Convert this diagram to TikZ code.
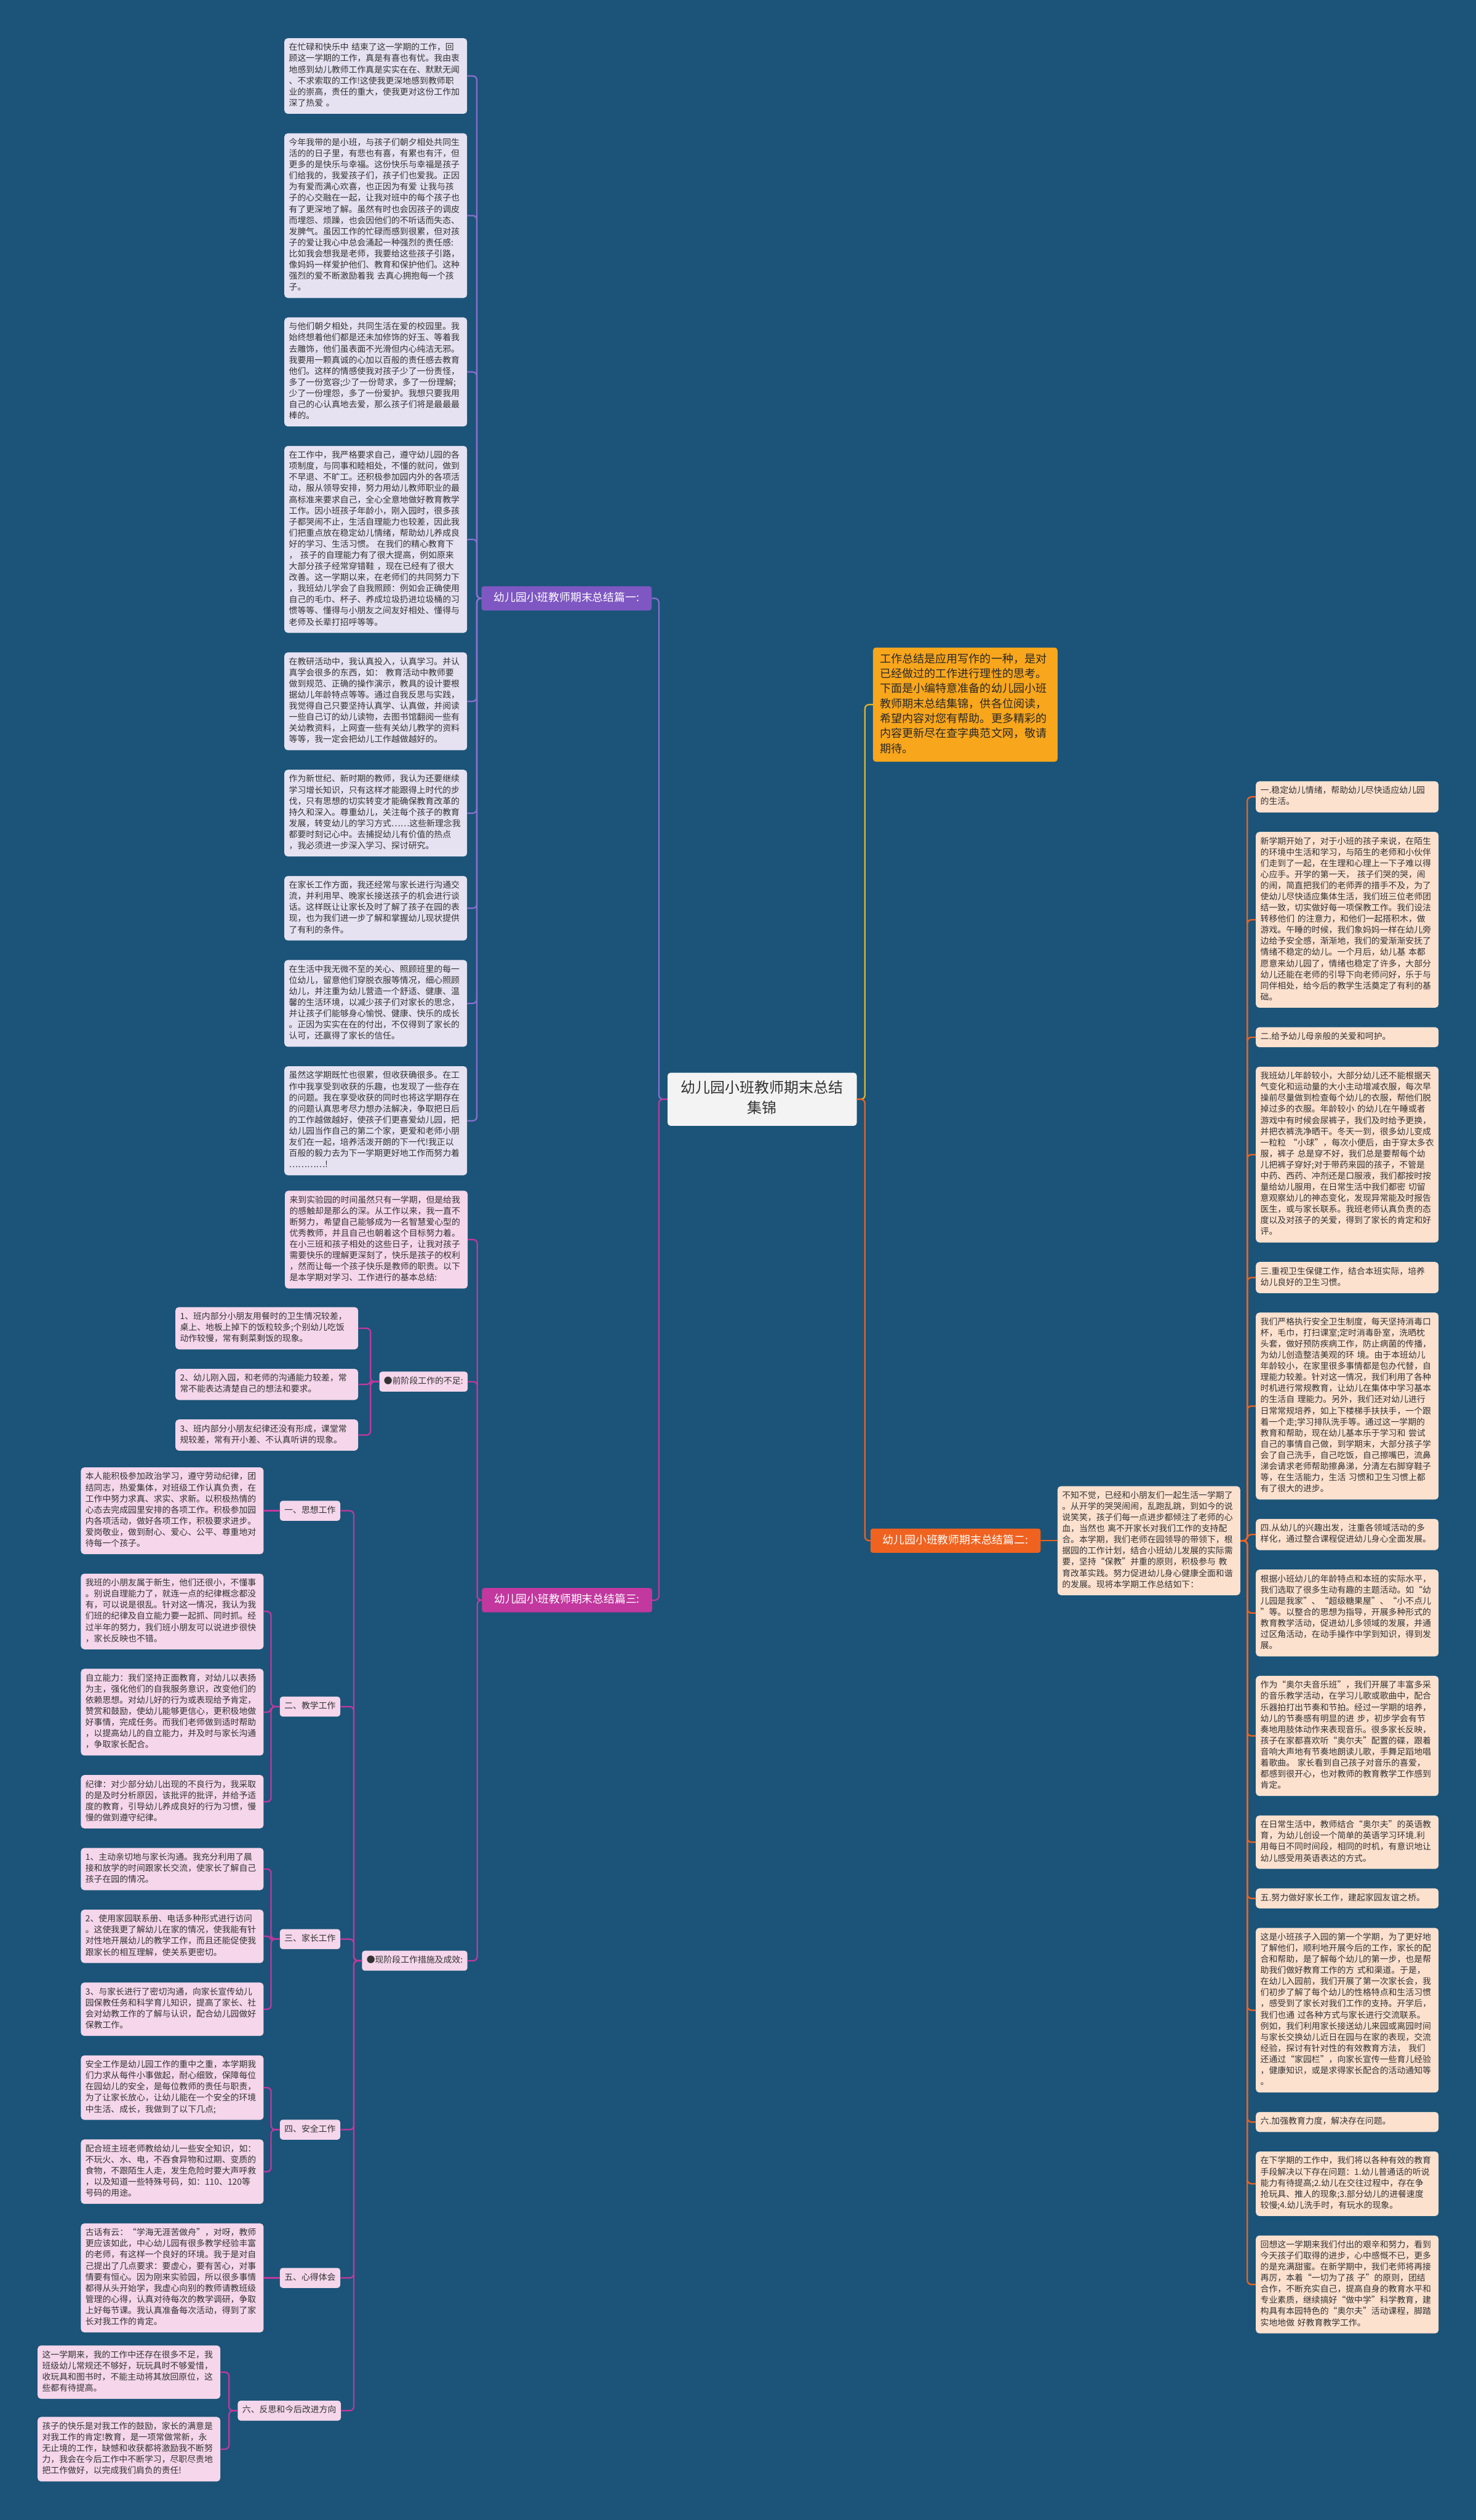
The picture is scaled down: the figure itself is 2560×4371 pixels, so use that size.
\documentclass[tikz,border=0pt]{standalone}
\usepackage{fontspec}
\setmainfont{Noto Sans CJK SC}
\usepackage{xcolor}
\usepackage{tikz}
\usetikzlibrary{positioning, calc}
\definecolor{KG_BG}{HTML}{1B5478}
\definecolor{KG_TEXT}{HTML}{333333}
\definecolor{KG_PURPLE}{HTML}{7E57C2}
\definecolor{KG_VIOLET}{HTML}{8B6FD0}
\definecolor{KG_MAGENTA}{HTML}{C2389F}
\definecolor{KG_ORANGE}{HTML}{F0621F}
\definecolor{KG_AMBER}{HTML}{F8A61C}
\definecolor{KG_GOLD}{HTML}{E3B42A}
\definecolor{KG_LAV}{HTML}{E6E2F2}
\definecolor{KG_PINK}{HTML}{F5D6EB}
\definecolor{KG_PEACH}{HTML}{FCE1CF}
\definecolor{KG_ROOT}{HTML}{F3F3F3}
\tikzset{
  txtbox/.style={
    rectangle, rounded corners=6pt,
    text width=301pt, align=left,
    inner xsep=8pt, inner ysep=7.7pt,
    text=KG_TEXT, font=\fontsize{14.8}{19.3}\selectfont,
    execute at begin node=\strut, execute at end node=\strut},
  lav/.style={txtbox, fill=KG_LAV},
  pinkbox/.style={txtbox, fill=KG_PINK},
  peach/.style={txtbox, fill=KG_PEACH},
  sec/.style={
    rectangle, rounded corners=5pt,
    inner xsep=8pt, inner ysep=7.7pt,
    fill=KG_PINK, text=KG_TEXT, font=\fontsize{14.8}{19.3}\selectfont,
    execute at begin node=\strut},
  part/.style={
    rectangle, rounded corners=4pt,
    minimum width=295pt, inner xsep=11pt, inner ysep=8pt,
    text=white, font=\fontsize{19}{26}\selectfont,
    execute at begin node=\strut},
  root/.style={
    rectangle, rounded corners=5pt,
    text width=283pt, align=center,
    inner xsep=22.5pt, inner ysep=11.3pt,
    fill=KG_ROOT, text=KG_TEXT, font=\fontsize{25.6}{34.7}\selectfont,
    execute at begin node=\strut, execute at end node=\strut},
  introbox/.style={
    rectangle, rounded corners=5pt,
    text width=296pt, align=left,
    inner xsep=12pt, inner ysep=8pt,
    fill=KG_AMBER, text=KG_TEXT!80!black, font=\fontsize{19.3}{26}\selectfont,
    execute at begin node=\strut, execute at end node=\strut},
  lnk/.style={rounded corners=7pt, line width=2.4pt},
}
\begin{document}
\begin{tikzpicture}[x=1pt, y=-1pt, node distance=33.4pt]

  \useasboundingbox (0,0) rectangle (2560,4371);
  \fill[KG_BG] (0,0) rectangle (2560,4371);

  % part one - LEFT, top
  \node[lav, anchor=north west] (a1) at (493,66)
    {在忙碌和快乐中 结束了这一学期的工作，回\\顾这一学期的工作，真是有喜也有忧。我由衷\\地感到幼儿教师工作真是实实在在、默默无闻\\、不求索取的工作!这使我更深地感到教师职\\业的崇高，责任的重大，使我更对这份工作加\\深了热爱 。};

  \node[lav, below=of a1] (a2)
    {今年我带的是小班，与孩子们朝夕相处共同生\\活的的日子里，有悲也有喜，有累也有汗，但\\更多的是快乐与幸福。这份快乐与幸福是孩子\\们给我的，我爱孩子们，孩子们也爱我。正因\\为有爱而满心欢喜，也正因为有爱 让我与孩\\子的心交融在一起，让我对班中的每个孩子也\\有了更深地了解。虽然有时也会因孩子的调皮\\而埋怨、烦躁，也会因他们的不听话而失态、\\发脾气。虽因工作的忙碌而感到很累，但对孩\\子的爱让我心中总会涌起一种强烈的责任感:\\比如我会想我是老师，我要给这些孩子引路，\\像妈妈一样爱护他们、教育和保护他们。这种\\强烈的爱不断激励着我 去真心拥抱每一个孩\\子。};

  \node[lav, below=of a2] (a3)
    {与他们朝夕相处，共同生活在爱的校园里。我\\始终想着他们都是还未加修饰的好玉、等着我\\去雕饰，他们虽表面不光滑但内心纯洁无邪。\\我要用一颗真诚的心加以百般的责任感去教育\\他们。这样的情感使我对孩子少了一份责怪，\\多了一份宽容;少了一份苛求，多了一份理解;\\少了一份埋怨，多了一份爱护。我想只要我用\\自己的心认真地去爱，那么孩子们将是最最最\\棒的。};

  \node[lav, below=of a3] (a4)
    {在工作中，我严格要求自己，遵守幼儿园的各\\项制度，与同事和睦相处，不懂的就问，做到\\不早退、不旷工。还积极参加园内外的各项活\\动，服从领导安排，努力用幼儿教师职业的最\\高标准来要求自己，全心全意地做好教育教学\\工作。因小班孩子年龄小，刚入园时，很多孩\\子都哭闹不止，生活自理能力也较差，因此我\\们把重点放在稳定幼儿情绪，帮助幼儿养成良\\好的学习、生活习惯。 在我们的精心教育下\\， 孩子的自理能力有了很大提高，例如原来\\大部分孩子经常穿错鞋 ，现在已经有了很大\\改善。这一学期以来，在老师们的共同努力下\\，我班幼儿学会了自我照顾：例如会正确使用\\自己的毛巾、杯子、养成垃圾扔进垃圾桶的习\\惯等等、懂得与小朋友之间友好相处、懂得与\\老师及长辈打招呼等等。};

  \node[lav, below=of a4] (a5)
    {在教研活动中，我认真投入，认真学习。并认\\真学会很多的东西，如： 教育活动中教师要\\做到规范、正确的操作演示，教具的设计要根\\据幼儿年龄特点等等。通过自我反思与实践，\\我觉得自己只要坚持认真学、认真做，并阅读\\一些自己订的幼儿读物，去图书馆翻阅一些有\\关幼教资料，上网查一些有关幼儿教学的资料\\等等，我一定会把幼儿工作越做越好的。};

  \node[lav, below=of a5] (a6)
    {作为新世纪、新时期的教师，我认为还要继续\\学习增长知识，只有这样才能跟得上时代的步\\伐，只有思想的切实转变才能确保教育改革的\\持久和深入。尊重幼儿，关注每个孩子的教育\\发展，转变幼儿的学习方式……这些新理念我\\都要时刻记心中。去捕捉幼儿有价值的热点\\，我必须进一步深入学习、探讨研究。};

  \node[lav, below=of a6] (a7)
    {在家长工作方面，我还经常与家长进行沟通交\\流，并利用早、晚家长接送孩子的机会进行谈\\话。这样既让让家长及时了解了孩子在园的表\\现，也为我们进一步了解和掌握幼儿现状提供\\了有利的条件。};

  \node[lav, below=of a7] (a8)
    {在生活中我无微不至的关心、照顾班里的每一\\位幼儿，留意他们穿脱衣服等情况，细心照顾\\幼儿，并注重为幼儿营造一个舒适、健康、温\\馨的生活环境，以减少孩子们对家长的思念，\\并让孩子们能够身心愉悦、健康、快乐的成长\\。正因为实实在在的付出，不仅得到了家长的\\认可，还赢得了家长的信任。};

  \node[lav, below=of a8] (a9)
    {虽然这学期既忙也很累，但收获确很多。在工\\作中我享受到收获的乐趣，也发现了一些存在\\的问题。我在享受收获的同时也将这学期存在\\的问题认真思考尽力想办法解决，争取把日后\\的工作越做越好，使孩子们更喜爱幼儿园，把\\幼儿园当作自己的第二个家，更爱和老师小朋\\友们在一起，培养活泼开朗的下一代!我正以\\百般的毅力去为下一学期更好地工作而努力着\\…………!};

  \node[part, fill=KG_PURPLE, anchor=east] (p1) at ($(a1.east)!.5!(a9.east) + (320,0)$)
    {幼儿园小班教师期末总结篇一:};

  % part three - LEFT, bottom
  \node[pinkbox, anchor=north west] (b0) at (494,2065)
    {来到实验园的时间虽然只有一学期，但是给我\\的感触却是那么的深。从工作以来，我一直不\\断努力，希望自己能够成为一名智慧爱心型的\\优秀教师，并且自己也朝着这个目标努力着。\\在小三班和孩子相处的这些日子，让我对孩子\\需要快乐的理解更深刻了，快乐是孩子的权利\\，然而让每一个孩子快乐是教师的职责。以下\\是本学期对学习、工作进行的基本总结:};

  \node[pinkbox, anchor=north west] (q1) at (304,2267)
    {1、班内部分小朋友用餐时的卫生情况较差，\\桌上、地板上掉下的饭粒较多;个别幼儿吃饭\\动作较慢，常有剩菜剩饭的现象。};
  \node[pinkbox, below=of q1] (q2)
    {2、幼儿刚入园，和老师的沟通能力较差，常\\常不能表达清楚自己的想法和要求。};
  \node[pinkbox, below=of q2] (q3)
    {3、班内部分小朋友纪律还没有形成，课堂常\\规较差，常有开小差、不认真听讲的现象。};

  \node[sec, anchor=east] (pre) at ($(q1.east)!.5!(q3.east) + (190,0)$)
    {●前阶段工作的不足:};

  \node[pinkbox, anchor=north west] (t1) at (140,2545)
    {本人能积极参加政治学习，遵守劳动纪律，团\\结同志，热爱集体，对班级工作认真负责，在\\工作中努力求真、求实、求新。以积极热情的\\心态去完成园里安排的各项工作。积极参加园\\内各项活动，做好各项工作，积极要求进步。\\爱岗敬业，做到耐心、爱心、公平、尊重地对\\待每一个孩子。};
  \node[pinkbox, below=of t1] (t2)
    {我班的小朋友属于新生，他们还很小，不懂事\\。别说自理能力了，就连一点的纪律概念都没\\有，可以说是很乱。针对这一情况，我认为我\\们班的纪律及自立能力要一起抓、同时抓。经\\过半年的努力，我们班小朋友可以说进步很快\\，家长反映也不错。};
  \node[pinkbox, below=of t2] (t3)
    {自立能力：我们坚持正面教育，对幼儿以表扬\\为主，强化他们的自我服务意识，改变他们的\\依赖思想。对幼儿好的行为或表现给予肯定，\\赞赏和鼓励，使幼儿能够更信心，更积极地做\\好事情，完成任务。而我们老师做到适时帮助\\，以提高幼儿的自立能力，并及时与家长沟通\\，争取家长配合。};
  \node[pinkbox, below=of t3] (t4)
    {纪律：对少部分幼儿出现的不良行为，我采取\\的是及时分析原因，该批评的批评，并给予适\\度的教育，引导幼儿养成良好的行为习惯，慢\\慢的做到遵守纪律。};
  \node[pinkbox, below=of t4] (t5)
    {1、主动亲切地与家长沟通。我充分利用了晨\\接和放学的时间跟家长交流，使家长了解自己\\孩子在园的情况。};
  \node[pinkbox, below=of t5] (t6)
    {2、使用家园联系册、电话多种形式进行访问\\。这使我更了解幼儿在家的情况，使我能有针\\对性地开展幼儿的教学工作，而且还能促使我\\跟家长的相互理解，使关系更密切。};
  \node[pinkbox, below=of t6] (t7)
    {3、与家长进行了密切沟通，向家长宣传幼儿\\园保教任务和科学育儿知识，提高了家长、社\\会对幼教工作的了解与认识，配合幼儿园做好\\保教工作。};
  \node[pinkbox, below=of t7] (t8)
    {安全工作是幼儿园工作的重中之重，本学期我\\们力求从每件小事做起，耐心细致，保障每位\\在园幼儿的安全，是每位教师的责任与职责，\\为了让家长放心，让幼儿能在一个安全的环境\\中生活、成长，我做到了以下几点;};
  \node[pinkbox, below=of t8] (t9)
    {配合班主班老师教给幼儿一些安全知识，如：\\不玩火、水、电，不吞食异物和过期、变质的\\食物，不跟陌生人走，发生危险时要大声呼救\\，以及知道一些特殊号码，如：110、120等\\号码的用途。};
  \node[pinkbox, below=of t9] (t10)
    {古话有云：“学海无涯苦做舟”，对呀，教师\\更应该如此，中心幼儿园有很多教学经验丰富\\的老师，有这样一个良好的环境。我于是对自\\己提出了几点要求：要虚心，要有苦心，对事\\情要有恒心。因为刚来实验园，所以很多事情\\都得从头开始学，我虚心向别的教师请教班级\\管理的心得，认真对待每次的教学调研，争取\\上好每节课。我认真准备每次活动，得到了家\\长对我工作的肯定。};

  \node[pinkbox, anchor=north west] (f1) at (65,4068)
    {这一学期来，我的工作中还存在很多不足，我\\班级幼儿常规还不够好，玩玩具时不够爱惜，\\收玩具和图书时，不能主动将其放回原位，这\\些都有待提高。};
  \node[pinkbox, below=31pt of f1] (f2)
    {孩子的快乐是对我工作的鼓励，家长的满意是\\对我工作的肯定!教育，是一项常做常新，永\\无止境的工作，缺憾和收获都将激励我不断努\\力，我会在今后工作中不断学习，尽职尽责地\\把工作做好，以完成我们肩负的责任!};

  \node[sec, anchor=east] (s1) at ($(t1.east) + (133,0)$) {一、思想工作};
  \node[sec, anchor=east] (s2) at ($(t2.east)!.5!(t4.east) + (133,0)$) {二、教学工作};
  \node[sec, anchor=east] (s3) at ($(t5.east)!.5!(t7.east) + (133,0)$) {三、家长工作};
  \node[sec, anchor=east] (s4) at ($(t8.east)!.5!(t9.east) + (133,0)$) {四、安全工作};
  \node[sec, anchor=east] (s5) at ($(t10.east) + (133,0)$) {五、心得体会};
  \node[sec, anchor=east] (s6) at ($(f1.east)!.5!(f2.east) + (209,0)$) {六、反思和今后改进方向};

  \node[sec, anchor=east] (now) at ($(s1.east)!.5!(s6.east) + (220,0)$)
    {●现阶段工作措施及成效:};

  \node[part, fill=KG_MAGENTA, anchor=east] (p3) at ($(b0.east)!.5!(now.east) + (320,0)$)
    {幼儿园小班教师期末总结篇三:};

  % root
  \node[root, anchor=west] (ctr) at ($(p1.east)!.5!(p3.east) + (27,0)$)
    {幼儿园小班教师期末总结\\集锦};

  % part two - RIGHT
  \node[peach, anchor=north west] (r1) at (2178,1355)
    {一.稳定幼儿情绪，帮助幼儿尽快适应幼儿园\\的生活。};
  \node[peach, below=of r1] (r2)
    {新学期开始了，对于小班的孩子来说，在陌生\\的环境中生活和学习，与陌生的老师和小伙伴\\们走到了一起，在生理和心理上一下子难以得\\心应手。开学的第一天， 孩子们哭的哭，闹\\的闹，简直把我们的老师弄的措手不及，为了\\使幼儿尽快适应集体生活，我们班三位老师团\\结一致，切实做好每一项保教工作。我们设法\\转移他们 的注意力，和他们一起搭积木，做\\游戏。午睡的时候，我们象妈妈一样在幼儿旁\\边给予安全感，渐渐地，我们的爱渐渐安抚了\\情绪不稳定的幼儿。一个月后，幼儿基 本都\\愿意来幼儿园了，情绪也稳定了许多，大部分\\幼儿还能在老师的引导下向老师问好，乐于与\\同伴相处，给今后的教学生活奠定了有利的基\\础。};
  \node[peach, below=of r2] (r3)
    {二.给予幼儿母亲般的关爱和呵护。};
  \node[peach, below=of r3] (r4)
    {我班幼儿年龄较小，大部分幼儿还不能根据天\\气变化和运动量的大小主动增减衣服，每次早\\操前尽量做到检查每个幼儿的衣服，帮他们脱\\掉过多的衣服。年龄较小 的幼儿在午睡或者\\游戏中有时候会尿裤子，我们及时给予更换，\\并把衣裤洗净晒干。冬天一到，很多幼儿变成\\一粒粒 “小球”，每次小便后，由于穿太多衣\\服，裤子 总是穿不好，我们总是要帮每个幼\\儿把裤子穿好;对于带药来园的孩子，不管是\\中药、西药、冲剂还是口服液，我们都按时按\\量给幼儿服用，在日常生活中我们都密 切留\\意观察幼儿的神态变化，发现异常能及时报告\\医生，或与家长联系。我班老师认真负责的态\\度以及对孩子的关爱，得到了家长的肯定和好\\评。};
  \node[peach, below=of r4] (r5)
    {三.重视卫生保健工作，结合本班实际，培养\\幼儿良好的卫生习惯。};
  \node[peach, below=of r5] (r6)
    {我们严格执行安全卫生制度，每天坚持消毒口\\杯，毛巾，打扫课室;定时消毒卧室，洗晒枕\\头套，做好预防疾病工作，防止病菌的传播，\\为幼儿创造整洁美观的环 境。由于本班幼儿\\年龄较小，在家里很多事情都是包办代替，自\\理能力较差。针对这一情况，我们利用了各种\\时机进行常规教育，让幼儿在集体中学习基本\\的生活自 理能力。另外，我们还对幼儿进行\\日常常规培养，如上下楼梯手扶扶手，一个跟\\着一个走;学习排队洗手等。通过这一学期的\\教育和帮助，现在幼儿基本乐于学习和 尝试\\自己的事情自己做，到学期末，大部分孩子学\\会了自己洗手，自己吃饭，自己擦嘴巴，流鼻\\涕会请求老师帮助擦鼻涕，分清左右脚穿鞋子\\等，在生活能力，生活 习惯和卫生习惯上都\\有了很大的进步。};
  \node[peach, below=of r6] (r7)
    {四.从幼儿的兴趣出发，注重各领域活动的多\\样化，通过整合课程促进幼儿身心全面发展。};
  \node[peach, below=of r7] (r8)
    {根据小班幼儿的年龄特点和本班的实际水平，\\我们选取了很多生动有趣的主题活动。如“幼\\儿园是我家”、“超级糖果屋”、“小不点儿\\”等。以整合的思想为指导，开展多种形式的\\教育教学活动，促进幼儿多领域的发展，并通\\过区角活动，在动手操作中学到知识，得到发\\展。};
  \node[peach, below=of r8] (r9)
    {作为“奥尔夫音乐班”，我们开展了丰富多采\\的音乐教学活动，在学习儿歌或歌曲中，配合\\乐器拍打出节奏和节拍。经过一学期的培养，\\幼儿的节奏感有明显的进 步，初步学会有节\\奏地用肢体动作来表现音乐。很多家长反映，\\孩子在家都喜欢听“奥尔夫”配置的碟，跟着\\音响大声地有节奏地朗读儿歌，手舞足蹈地唱\\着歌曲。 家长看到自己孩子对音乐的喜爱，\\都感到很开心，也对教师的教育教学工作感到\\肯定。};
  \node[peach, below=of r9] (r10)
    {在日常生活中，教师结合“奥尔夫”的英语教\\育，为幼儿创设一个简单的英语学习环境.利\\用每日不同时间段，相同的时机，有意识地让\\幼儿感受用英语表达的方式。};
  \node[peach, below=of r10] (r11)
    {五.努力做好家长工作，建起家园友谊之桥。};
  \node[peach, below=of r11] (r12)
    {这是小班孩子入园的第一个学期，为了更好地\\了解他们，顺利地开展今后的工作，家长的配\\合和帮助，是了解每个幼儿的第一步，也是帮\\助我们做好教育工作的方 式和渠道。于是，\\在幼儿入园前，我们开展了第一次家长会，我\\们初步了解了每个幼儿的性格特点和生活习惯\\，感受到了家长对我们工作的支持。开学后，\\我们也通 过各种方式与家长进行交流联系。\\例如，我们利用家长接送幼儿来园或离园时间\\与家长交换幼儿近日在园与在家的表现，交流\\经验，探讨有针对性的有效教育方法， 我们\\还通过“家园栏”，向家长宣传一些育儿经验\\，健康知识，或是求得家长配合的活动通知等\\。};
  \node[peach, below=of r12] (r13)
    {六.加强教育力度，解决存在问题。};
  \node[peach, below=of r13] (r14)
    {在下学期的工作中，我们将以各种有效的教育\\手段解决以下存在问题：1.幼儿普通话的听说\\能力有待提高;2.幼儿在交往过程中，存在争\\抢玩具、推人的现象;3.部分幼儿的进餐速度\\较慢;4.幼儿洗手时，有玩水的现象。};
  \node[peach, below=of r14] (r15)
    {回想这一学期来我们付出的艰辛和努力，看到\\今天孩子们取得的进步，心中感慨不已，更多\\的是充满甜蜜。在新学期中，我们老师将再接\\再厉，本着“一切为了孩 子”的原则，团结\\合作，不断充实自己，提高自身的教育水平和\\专业素质，继续搞好“做中学”科学教育，建\\构具有本园特色的“奥尔夫”活动课程，脚踏\\实地地做 好教育教学工作。};

  \node[peach, anchor=west] (p2txt) at ($(r1.west)!.5!(r15.west) + (-344,0)$)
    {不知不觉，已经和小朋友们一起生活一学期了\\。从开学的哭哭闹闹，乱跑乱跳，到如今的说\\说笑笑，孩子们每一点进步都倾注了老师的心\\血，当然也 离不开家长对我们工作的支持配\\合。本学期，我们老师在园领导的带领下，根\\据园的工作计划，结合小班幼儿发展的实际需\\要，坚持“保教”并重的原则，积极参与 教\\育改革实践。努力促进幼儿身心健康全面和谐\\的发展。现将本学期工作总结如下：};

  \node[part, fill=KG_ORANGE, anchor=east] (p2) at ($(p2txt.west) + (-29,0)$)
    {幼儿园小班教师期末总结篇二:};

  \node[introbox, anchor=north west] (intro) at (1514,1123)
    {工作总结是应用写作的一种，是对\\已经做过的工作进行理性的思考。\\下面是小编特意准备的幼儿园小班\\教师期末总结集锦，供各位阅读，\\希望内容对您有帮助。更多精彩的\\内容更新尽在查字典范文网，敬请\\期待。};

  % root links
  \draw[lnk, KG_VIOLET]  (ctr.west) -- ++(-15,0) |- (p1.east);
  \draw[lnk, KG_MAGENTA] (ctr.west) -- ++(-15,0) |- (p3.east);
  \draw[lnk, KG_GOLD]    (ctr.east) -- ++(14,0) |- (intro.west);
  \draw[lnk, KG_ORANGE]  (ctr.east) -- ++(14,0) |- (p2.west);

  % part one links
  \draw[lnk, KG_VIOLET] (p1.west) -- ++(-8,0) |- (a1.east);
  \draw[lnk, KG_VIOLET] (p1.west) -- ++(-8,0) |- (a2.east);
  \draw[lnk, KG_VIOLET] (p1.west) -- ++(-8,0) |- (a3.east);
  \draw[lnk, KG_VIOLET] (p1.west) -- ++(-8,0) |- (a4.east);
  \draw[lnk, KG_VIOLET] (p1.west) -- ++(-8,0) |- (a5.east);
  \draw[lnk, KG_VIOLET] (p1.west) -- ++(-8,0) |- (a6.east);
  \draw[lnk, KG_VIOLET] (p1.west) -- ++(-8,0) |- (a7.east);
  \draw[lnk, KG_VIOLET] (p1.west) -- ++(-8,0) |- (a8.east);
  \draw[lnk, KG_VIOLET] (p1.west) -- ++(-8,0) |- (a9.east);

  % part three links
  \draw[lnk, KG_MAGENTA] (p3.west)  -- ++(-8,0) |- (b0.east);
  \draw[lnk, KG_MAGENTA] (p3.west)  -- ++(-8,0) |- (pre.east);
  \draw[lnk, KG_MAGENTA] (p3.west)  -- ++(-8,0) |- (now.east);
  \draw[lnk, KG_MAGENTA] (pre.west) -- ++(-15,0) |- (q1.east);
  \draw[lnk, KG_MAGENTA] (pre.west) -- ++(-15,0) |- (q2.east);
  \draw[lnk, KG_MAGENTA] (pre.west) -- ++(-15,0) |- (q3.east);
  \draw[lnk, KG_MAGENTA] (now.west) -- ++(-14,0) |- (s1.east);
  \draw[lnk, KG_MAGENTA] (now.west) -- ++(-14,0) |- (s2.east);
  \draw[lnk, KG_MAGENTA] (now.west) -- ++(-14,0) |- (s3.east);
  \draw[lnk, KG_MAGENTA] (now.west) -- ++(-14,0) |- (s4.east);
  \draw[lnk, KG_MAGENTA] (now.west) -- ++(-14,0) |- (s5.east);
  \draw[lnk, KG_MAGENTA] (now.west) -- ++(-14,0) |- (s6.east);
  \draw[lnk, KG_MAGENTA] (s1.west)  -- (t1.east);
  \draw[lnk, KG_MAGENTA] (s2.west)  -- ++(-15,0) |- (t2.east);
  \draw[lnk, KG_MAGENTA] (s2.west)  -- ++(-15,0) |- (t3.east);
  \draw[lnk, KG_MAGENTA] (s2.west)  -- ++(-15,0) |- (t4.east);
  \draw[lnk, KG_MAGENTA] (s3.west)  -- ++(-15,0) |- (t5.east);
  \draw[lnk, KG_MAGENTA] (s3.west)  -- ++(-15,0) |- (t6.east);
  \draw[lnk, KG_MAGENTA] (s3.west)  -- ++(-15,0) |- (t7.east);
  \draw[lnk, KG_MAGENTA] (s4.west)  -- ++(-15,0) |- (t8.east);
  \draw[lnk, KG_MAGENTA] (s4.west)  -- ++(-15,0) |- (t9.east);
  \draw[lnk, KG_MAGENTA] (s5.west)  -- (t10.east);
  \draw[lnk, KG_MAGENTA] (s6.west)  -- ++(-15,0) |- (f1.east);
  \draw[lnk, KG_MAGENTA] (s6.west)  -- ++(-15,0) |- (f2.east);

  % part two links
  \draw[lnk, KG_ORANGE] (p2.east) -- (p2txt.west |- p2.east);
  \draw[lnk, KG_ORANGE] (p2txt.east) -- ++(12,0) |- (r1.west);
  \draw[lnk, KG_ORANGE] (p2txt.east) -- ++(12,0) |- (r2.west);
  \draw[lnk, KG_ORANGE] (p2txt.east) -- ++(12,0) |- (r3.west);
  \draw[lnk, KG_ORANGE] (p2txt.east) -- ++(12,0) |- (r4.west);
  \draw[lnk, KG_ORANGE] (p2txt.east) -- ++(12,0) |- (r5.west);
  \draw[lnk, KG_ORANGE] (p2txt.east) -- ++(12,0) |- (r6.west);
  \draw[lnk, KG_ORANGE] (p2txt.east) -- ++(12,0) |- (r7.west);
  \draw[lnk, KG_ORANGE] (p2txt.east) -- ++(12,0) |- (r8.west);
  \draw[lnk, KG_ORANGE] (p2txt.east) -- ++(12,0) |- (r9.west);
  \draw[lnk, KG_ORANGE] (p2txt.east) -- ++(12,0) |- (r10.west);
  \draw[lnk, KG_ORANGE] (p2txt.east) -- ++(12,0) |- (r11.west);
  \draw[lnk, KG_ORANGE] (p2txt.east) -- ++(12,0) |- (r12.west);
  \draw[lnk, KG_ORANGE] (p2txt.east) -- ++(12,0) |- (r13.west);
  \draw[lnk, KG_ORANGE] (p2txt.east) -- ++(12,0) |- (r14.west);
  \draw[lnk, KG_ORANGE] (p2txt.east) -- ++(12,0) |- (r15.west);

\end{tikzpicture}
\end{document}
